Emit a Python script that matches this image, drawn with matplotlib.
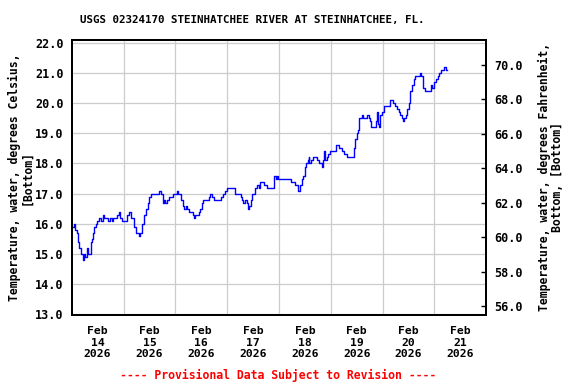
import datetime as dt
import matplotlib
matplotlib.use("Agg")
import matplotlib.pyplot as plt
import matplotlib.dates as mdates
from matplotlib.ticker import FixedLocator, FormatStrFormatter

# Hours since Feb 14 2026 00:00 and water temperature (deg C)
hours = [0.0, 1.1, 1.5, 2.3, 3.1, 3.5, 4.2, 4.8, 5.4, 5.7, 6.3, 6.9, 7.6, 8.2, 8.8,
         9.6, 10.0, 10.5, 11.3, 11.9, 12.8, 13.4, 14.4, 15.0, 16.2, 17.0, 17.7, 18.5,
         19.3, 20.5, 21.1, 21.8, 22.4, 23.2, 24.7, 25.5, 26.6, 27.3, 28.3, 28.9, 29.8,
         30.6, 31.0, 31.7, 32.4, 33.2, 33.7, 34.4, 35.1, 35.7, 36.6, 37.8, 39.4, 40.6,
         41.2, 42.2, 42.8, 43.4, 44.0, 45.2, 46.3, 47.1, 47.9, 48.6, 49.4, 50.2, 50.8,
         51.4, 52.0, 53.0, 53.6, 54.2, 55.4, 56.0, 56.5, 57.0, 57.9, 58.8, 59.4, 60.2,
         61.0, 61.9, 62.5, 63.5, 64.1, 64.8, 65.6, 65.9, 67.2, 68.4, 69.0, 69.9, 71.0,
         71.8, 73.3, 75.2, 75.8, 76.7, 77.7, 78.3, 78.9, 79.5, 80.3, 81.1, 81.8, 82.3,
         82.9, 83.5, 84.2, 84.8, 85.7, 86.6, 87.2, 88.2, 89.1, 90.0, 90.6, 91.9, 93.4,
         93.9, 94.4, 95.0, 95.7, 98.1, 101.2, 101.5, 102.7, 103.5, 104.5, 105.0, 105.5,
         106.1, 106.7, 107.3, 107.9, 108.6, 109.2, 109.8, 110.1, 110.7, 111.7, 112.7,
         113.5, 114.3, 115.1, 115.7, 116.3, 116.9, 117.4, 118.1, 118.9, 119.7, 121.2,
         122.2, 123.1, 124.0, 125.1, 125.9, 127.4, 127.7, 130.2, 130.8, 131.4, 132.0,
         132.5, 133.0, 133.6, 134.4, 135.1, 136.1, 136.7, 137.5, 138.2, 138.5, 140.5,
         141.0, 141.3, 141.8, 142.4, 142.9, 143.6, 144.4, 145.6, 146.6, 147.2, 148.1,
         149.0, 149.8, 150.6, 151.4, 152.1, 152.9, 153.4, 154.0, 154.9, 155.5, 156.1,
         156.8, 157.5, 158.3, 159.1, 160.6, 161.1, 161.9, 162.5, 162.9, 163.7, 164.5,
         165.7, 166.3, 166.8, 167.3, 167.9, 168.5, 169.4, 170.0, 171.0, 172.2, 172.5,
         173.3, 173.4, 173.7]
temp_c = [15.9, 16.0, 15.8, 15.7, 15.4, 15.2, 15.0, 15.0, 14.8, 15.0, 14.9, 15.2, 15.0,
          15.0, 15.4, 15.5, 15.7, 15.9, 16.0, 16.1, 16.2, 16.1, 16.3, 16.2, 16.2, 16.1,
          16.2, 16.1, 16.2, 16.2, 16.3, 16.4, 16.2, 16.1, 16.1, 16.3, 16.4, 16.2, 16.2,
          15.9, 15.7, 15.7, 15.6, 15.7, 16.0, 16.0, 16.3, 16.5, 16.7, 16.9, 17.0, 17.0,
          17.0, 17.1, 17.0, 16.7, 16.8, 16.7, 16.8, 16.9, 16.9, 17.0, 17.0, 17.1, 17.0,
          17.0, 16.8, 16.6, 16.5, 16.6, 16.5, 16.4, 16.4, 16.3, 16.2, 16.3, 16.3, 16.4,
          16.5, 16.7, 16.8, 16.8, 16.8, 16.9, 17.0, 16.9, 16.9, 16.8, 16.8, 16.8, 16.9,
          17.0, 17.1, 17.2, 17.2, 17.2, 17.0, 17.0, 17.0, 16.9, 16.8, 16.7, 16.8, 16.7,
          16.5, 16.6, 16.8, 17.0, 17.0, 17.2, 17.3, 17.2, 17.4, 17.4, 17.3, 17.3, 17.2,
          17.2, 17.2, 17.6, 17.5, 17.6, 17.5, 17.5, 17.5, 17.4, 17.4, 17.3, 17.3, 17.1,
          17.3, 17.3, 17.5, 17.6, 17.9, 18.0, 18.1, 18.2, 18.0, 18.1, 18.2, 18.2, 18.1,
          18.0, 18.0, 17.9, 18.1, 18.4, 18.1, 18.2, 18.3, 18.4, 18.4, 18.6, 18.6, 18.5,
          18.4, 18.3, 18.3, 18.2, 18.2, 18.5, 18.8, 19.0, 19.1, 19.5, 19.5, 19.6, 19.5,
          19.5, 19.6, 19.5, 19.4, 19.2, 19.2, 19.4, 19.7, 19.3, 19.2, 19.6, 19.7, 19.9,
          19.9, 19.9, 20.1, 20.1, 20.0, 19.9, 19.8, 19.7, 19.6, 19.5, 19.4, 19.5, 19.6,
          19.8, 20.0, 20.4, 20.6, 20.8, 20.9, 20.9, 21.0, 20.9, 20.7, 20.5, 20.4, 20.4,
          20.4, 20.6, 20.5, 20.5, 20.7, 20.8, 20.9, 21.0, 21.1, 21.1, 21.2, 21.2, 21.1,
          21.1]

start = dt.datetime(2026, 2, 14)
times = [start + dt.timedelta(hours=h) for h in hours]
label_days = [start + dt.timedelta(days=d, hours=12) for d in range(8)]
grid_days = [start + dt.timedelta(days=d) for d in range(1, 8)]
c_ticks = [13, 14, 15, 16, 17, 18, 19, 20, 21, 22]
f_ticks = [56, 58, 60, 62, 64, 66, 68, 70]

plt.rcParams["font.family"] = "DejaVu Sans Mono"
plt.rcParams["font.weight"] = "bold"

fig = plt.figure(figsize=(5.76, 3.84), dpi=100)
ax = fig.add_axes([0.1245, 0.1797, 0.7198, 0.7161])

ax.plot(times, temp_c, color="#0000ff", lw=1.0, drawstyle="steps-post")

ax.set_xlim(start, start + dt.timedelta(days=8))
ax.set_ylim(12.97, 22.1)

# x axis: labels at noon, grid at midnight
ax.xaxis.set_major_locator(FixedLocator(mdates.date2num(label_days)))
ax.xaxis.set_major_formatter(mdates.DateFormatter("%b\n%d\n%Y"))
ax.xaxis.set_minor_locator(FixedLocator(mdates.date2num(grid_days)))
ax.tick_params(axis="x", which="both", length=0, pad=8, labelsize=8.2)
for lab in ax.get_xticklabels():
    lab.set_linespacing(1.2)
ax.grid(True, axis="x", which="minor", color="#cccccc", lw=0.9)

ax.yaxis.set_major_locator(FixedLocator(c_ticks))
ax.yaxis.set_major_formatter(FormatStrFormatter("%.1f"))
ax.tick_params(axis="y", length=0, pad=6, labelsize=8.5)
ax.grid(True, axis="y", which="major", color="#cccccc", lw=0.9)

for s in ax.spines.values():
    s.set_linewidth(1.4)

ax2 = ax.twinx()
ax2.set_ylim(55.48, 71.42)
ax2.yaxis.set_major_locator(FixedLocator(f_ticks))
ax2.yaxis.set_major_formatter(FormatStrFormatter("%.1f"))
ax2.tick_params(axis="y", direction="in", length=3.5, width=1, pad=6, labelsize=8.5)
for s in ax2.spines.values():
    s.set_linewidth(1.4)

fig.text(0.4375, 0.948, "USGS 02324170 STEINHATCHEE RIVER AT STEINHATCHEE, FL.",
         ha="center", va="center", fontsize=7.8, fontweight="bold")
fig.text(0.036, 0.538, "Temperature, water, degrees Celsius,\n[Bottom]",
         rotation=90, ha="center", va="center", multialignment="center",
         fontsize=8.3, fontweight="bold", linespacing=1.0)
fig.text(0.957, 0.538, "Temperature, water, degrees Fahrenheit,\nBottom, [Bottom]",
         rotation=90, ha="center", va="center", multialignment="center",
         fontsize=8.3, fontweight="bold", linespacing=1.0)
fig.text(0.482, 0.023, "---- Provisional Data Subject to Revision ----",
         ha="center", va="center", fontsize=8.3, fontweight="bold", color="red")

fig.savefig("out.png", dpi=100)
